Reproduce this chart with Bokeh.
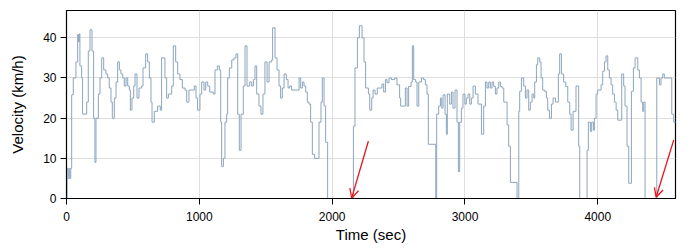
from bokeh.plotting import figure
from bokeh.models import Range1d, FixedTicker, Arrow, OpenHead
from bokeh.embed import file_html
from bokeh.resources import INLINE

time_sec = [0, 5, 12, 18, 25, 32, 39, 51, 71, 84, 91, 96, 101, 114, 121, 152, 164, 177, 192, 204,
            214, 222, 240, 252, 265, 280, 297, 310, 322, 335, 345, 360, 373, 385, 398, 410, 423, 435,
            448, 461, 473, 481, 493, 506, 516, 531, 546, 566, 576, 596, 611, 624, 636, 644, 661, 686,
            706, 716, 741, 754, 767, 792, 804, 822, 837, 854, 872, 892, 905, 922, 962, 975, 987, 1005,
            1018, 1035, 1048, 1063, 1078, 1105, 1118, 1136, 1151, 1161, 1168, 1181, 1193, 1206, 1213,
            1226, 1244, 1261, 1276, 1289, 1301, 1314, 1331, 1344, 1359, 1379, 1394, 1407, 1419, 1432,
            1449, 1464, 1479, 1494, 1510, 1525, 1545, 1552, 1570, 1585, 1600, 1612, 1625, 1638, 1655,
            1668, 1680, 1695, 1751, 1763, 1776, 1788, 1801, 1813, 1826, 1838, 1851, 1868, 1901, 1916,
            1926, 1939, 1951, 1966, 2160, 2172, 2190, 2205, 2225, 2240, 2252, 2273, 2283, 2298, 2308,
            2323, 2340, 2375, 2388, 2401, 2413, 2428, 2446, 2471, 2488, 2508, 2516, 2551, 2564, 2576,
            2594, 2604, 2614, 2629, 2639, 2652, 2672, 2689, 2702, 2714, 2724, 2780, 2787, 2802, 2815,
            2825, 2835, 2850, 2860, 2867, 2885, 2898, 2910, 2925, 2940, 2950, 2960, 2973, 2985, 3000,
            3010, 3023, 3036, 3048, 3061, 3078, 3098, 3124, 3141, 3154, 3166, 3179, 3191, 3204, 3216,
            3229, 3241, 3254, 3267, 3279, 3292, 3317, 3329, 3342, 3392, 3405, 3412, 3425, 3442, 3455,
            3467, 3480, 3492, 3505, 3518, 3525, 3538, 3548, 3563, 3573, 3585, 3598, 3613, 3623, 3636,
            3651, 3663, 3681, 3703, 3713, 3726, 3743, 3759, 3774, 3789, 3799, 3814, 3836, 3856, 3864,
            3919, 3929, 3944, 3954, 3967, 3974, 3987, 3999, 4025, 4037, 4050, 4062, 4075, 4087, 4100,
            4112, 4125, 4138, 4150, 4180, 4195, 4205, 4220, 4233, 4253, 4268, 4281, 4301, 4313, 4326,
            4338, 4346, 4356, 4444, 4464, 4476, 4489, 4501, 4557, 4572, 4590]

velocity_kmh = [0, 7.5, 5, 7.5, 5, 7.5, 25.8, 30, 34, 40.8, 39, 41, 33, 30, 21, 24, 36.7, 42, 36.7, 20,
                9, 20, 26, 30, 35, 32, 31, 30, 27.5, 24, 20, 25, 29, 34, 32, 31, 30, 28,
                30, 28, 27, 22, 25, 28, 31, 25, 27.5, 28, 32.5, 36, 34, 30, 24, 19, 21.7, 23,
                22, 35, 30, 25, 26, 28, 38, 34, 31, 29.6, 27.5, 27, 24, 27, 28, 25, 22, 26,
                29, 27, 29, 28, 26.5, 26, 32, 33, 32, 19, 8, 10, 19, 21, 30,
                32.5, 34.5, 35, 36, 21, 12, 21, 28, 38, 28, 29, 28, 29.6, 33, 26,
                23, 21, 26, 34, 29, 34, 34.5, 42.5, 35, 32, 28, 25, 27.5, 31, 29.6,
                27.5, 28, 27, 30, 27.5, 29, 28, 26.5, 24, 23.5, 19, 11, 10, 19, 24,
                30, 23, 14, 0, 18, 32.5, 40, 43, 40, 34, 27.5, 26, 22, 25, 27,
                26, 27.5, 28.5, 26.5, 29.6, 28.8, 30, 29.6, 30, 28.3, 25, 23, 27.5, 23, 27.9,
                29, 38, 29.6, 29, 23, 29, 30, 29.6, 28.3, 26, 13.5, 0, 21, 23, 25,
                22.5, 25.8, 21, 16, 26, 23.5, 26.5, 22.5, 27, 19, 6.7, 19, 22.5, 26, 23.5,
                25, 26, 23.5, 25, 28, 26, 23.5, 16, 23, 29, 27.5, 29, 27.5, 29, 27.9,
                26, 27.5, 29, 27.9, 27.5, 24, 18.3, 13, 4, 0, 21.7, 26.7, 30, 28, 25,
                27, 22, 24, 26, 25, 29, 33.3, 35, 34, 30, 27, 26.7, 25, 22, 20,
                23.5, 25, 24, 31, 36, 31, 29, 27.9, 24, 21, 17, 21.7, 28, 13, 0,
                12, 19, 16.7, 19, 17, 20, 26, 27, 28.3, 31.7, 34, 35.5, 32, 30, 28.3,
                26, 24, 22, 19.5, 31, 28, 23, 13, 3.8, 26.7, 32.5, 35, 32, 30, 24,
                21.7, 24, 0, 30, 28.3, 30, 31, 30, 21, 19, 19]

x_ticks = [0, 1000, 2000, 3000, 4000]
y_ticks = [0, 10, 20, 30, 40]

# annotation arrows (start -> end) in data units
arrow_x_start = [2273, 4572]
arrow_y_start = [14.3, 14.6]
arrow_x_end = [2147, 4439]
arrow_y_end = [0.1, 0.3]

FONT = "Liberation Sans"

p = figure(width=700, height=250, output_backend="svg", toolbar_location=None,
           x_range=Range1d(0, 4585), y_range=Range1d(0, 46.8),
           min_border_left=66, min_border_right=25, min_border_top=10, min_border_bottom=52)

p.step(time_sec, velocity_kmh, mode="after", line_color="#8ca5bd", line_width=1)

for xs, ys, xe, ye in zip(arrow_x_start, arrow_y_start, arrow_x_end, arrow_y_end):
    p.add_layout(Arrow(x_start=xs, y_start=ys, x_end=xe, y_end=ye,
                       line_color="#e8141c", line_width=1.3,
                       end=OpenHead(size=9, line_color="#e8141c", line_width=1.3)))

p.outline_line_color = "black"
p.outline_line_width = 1.2
p.outline_line_alpha = 1

p.xgrid.grid_line_color = "#dedede"
p.ygrid.grid_line_color = "#dedede"

p.xaxis.ticker = FixedTicker(ticks=x_ticks)
p.yaxis.ticker = FixedTicker(ticks=y_ticks)

for ax in (p.xaxis[0], p.yaxis[0]):
    ax.axis_line_color = "black"
    ax.major_tick_line_color = "black"
    ax.minor_tick_line_color = None
    ax.major_tick_out = 6
    ax.major_tick_in = 0
    ax.major_label_text_font = FONT
    ax.major_label_text_font_size = "12px"
    ax.major_label_text_color = "black"
    ax.axis_label_text_font = FONT
    ax.axis_label_text_font_size = "15px"
    ax.axis_label_text_font_style = "normal"
    ax.axis_label_text_color = "black"

p.xaxis.axis_label = "Time (sec)"
p.yaxis.axis_label = "Velocity (km/h)"
p.xaxis.major_label_standoff = 7
p.xaxis.axis_label_standoff = 2
p.yaxis.major_label_standoff = 4
p.yaxis.axis_label_standoff = 14

p.background_fill_color = "white"
p.border_fill_color = "white"

open("out.html", "w").write(file_html(p, INLINE))
